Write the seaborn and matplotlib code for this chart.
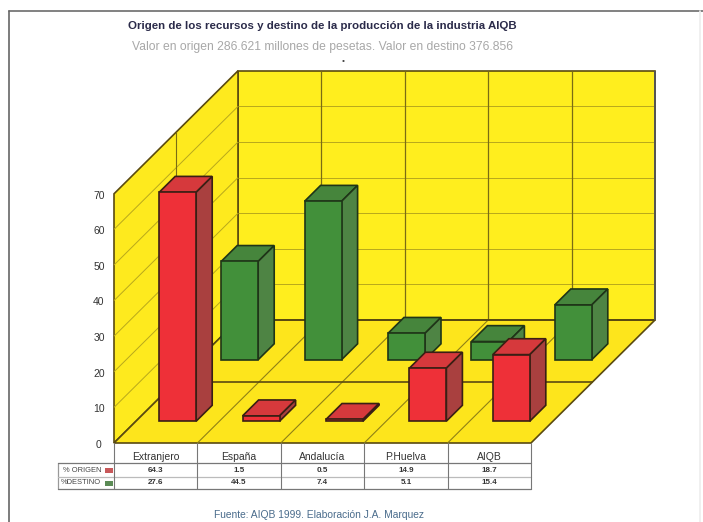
import numpy as np
import pandas as pd
import matplotlib
matplotlib.use('Agg')
import matplotlib.pyplot as plt
from matplotlib.patches import Polygon
import seaborn as sns

categories = ['Extranjero', 'España', 'Andalucía', 'P.Huelva', 'AIQB']
origen = [64.3, 1.5, 0.5, 14.9, 18.7]
destino = [27.6, 44.5, 7.4, 5.1, 15.4]
origen_txt = ['64.3', '1.5', '0.5', '14.9', '18.7']
destino_txt = ['27.6', '44.5', '7.4', '5.1', '15.4']
yticks = [0, 10, 20, 30, 40, 50, 60, 70]

sns.set_theme(style='white')
plt.rcParams['font.family'] = ['Liberation Sans', 'DejaVu Sans']

W, H = 703, 522
CAT_PX = 83.4   # pixels per category
VAL_PX = 3.56   # pixels per percent
X0, Y0 = 114, 443
DEPTH_X = 124 / CAT_PX   # oblique depth, in data units
DEPTH_Y = 123 / VAL_PX
YMAX = 70
YEL_BACK = '#FFEE1E'
YEL_SIDE = '#FEEA1E'
YEL_FLOOR = '#FDE51C'
LINE = '#5A4A10'

fig = plt.figure(figsize=(W / 100, H / 100), dpi=100)
ax = fig.add_axes([0, 0, 1, 1])


def proj(x, val, d):
    return x + d * DEPTH_X, val + d * DEPTH_Y


def px(x_pix, y_pix):
    return (x_pix - X0) / CAT_PX, (Y0 - y_pix) / VAL_PX


def face(pts, color, z, lw=1.2, ec='#2b2412'):
    ax.add_patch(Polygon(pts, closed=True, fc=color, ec=ec, lw=lw, zorder=z))


n = len(categories)

# walls and floor
face([proj(0, 0, 1), proj(n, 0, 1), proj(n, YMAX, 1), proj(0, YMAX, 1)], YEL_BACK, 1, 1.2, LINE)
face([proj(0, 0, 0), proj(0, 0, 1), proj(0, YMAX, 1), proj(0, YMAX, 0)], YEL_SIDE, 1, 1.2, LINE)
face([proj(0, 0, 0), proj(n, 0, 0), proj(n, 0, 1), proj(0, 0, 1)], YEL_FLOOR, 1, 1.2, LINE)


def grid(a, b, lw=0.8, col='#a89a1c'):
    ax.plot([a[0], b[0]], [a[1], b[1]], color=col, lw=lw, zorder=2, solid_capstyle='butt')


for v in yticks[1:-1]:
    grid(proj(0, v, 0), proj(0, v, 1), 0.7, '#b8a81c')
    grid(proj(0, v, 1), proj(n, v, 1), 0.7, '#b8a81c')
for i in range(1, n):
    grid(proj(i, 0, 1), proj(i, YMAX, 1), 0.9, '#7a6c14')
    grid(proj(i, 0, 0), proj(i, 0, 1), 0.8, '#8f8016')
grid(proj(0, 0, 0.5), proj(0, YMAX, 0.5), 0.8, '#7a6c14')
grid(proj(0, 0, 0.5), proj(n, 0, 0.5), 1.2, LINE)
grid(proj(0, 0, 1), proj(n, 0, 1), 1.4, LINE)
grid(proj(n, 0, 1), proj(n, YMAX, 1), 1.4, '#555555')

# bars: front faces through seaborn, top and side from the same values
BAR_W = 37 / 83.4
BAR_D = 16 / 124


def bars(values, d0, front, top, side, edge, z):
    pos = np.arange(n) + 0.5 + d0 * DEPTH_X
    base = d0 * DEPTH_Y
    df = pd.DataFrame({'pos': pos, 'val': values})
    sns.barplot(data=df, x='pos', y='val', native_scale=True, width=BAR_W, color=front,
                saturation=1, errorbar=None, bottom=base, edgecolor=edge, linewidth=1.2,
                zorder=z + 1, ax=ax)
    for i, v in enumerate(values):
        xl = i + 0.5 - BAR_W / 2
        xr = i + 0.5 + BAR_W / 2
        d1 = d0 + BAR_D
        face([proj(xl, v, d0), proj(xr, v, d0), proj(xr, v, d1), proj(xl, v, d1)], top, z, ec=edge)
        face([proj(xr, 0, d0), proj(xr, 0, d1), proj(xr, v, d1), proj(xr, v, d0)], side, z, ec=edge)


bars(destino, 84 / 124, '#42903A', '#46853C', '#4E8444', '#1f3518', 5)
bars(origen, 22 / 124, '#EE3038', '#D6393C', '#A9403F', '#3a1f14', 8)

ax.set_xlim(px(0, 0)[0], px(W, 0)[0])
ax.set_ylim(px(0, H)[1], px(0, 0)[1])
ax.axis('off')

# scanned page frame
frame_top = px(0, 11)[1]
ax.plot([px(9, 0)[0], px(W, 0)[0]], [frame_top, frame_top], color='#777777', lw=1.3)
ax.plot([px(9, 0)[0], px(9, 0)[0]], [frame_top, px(0, H)[1]], color='#666666', lw=1.2)
ax.plot([px(700, 0)[0], px(700, 0)[0]], [frame_top, px(0, H)[1]], color='#eeeeee', lw=1.2)

# value labels on the left
for v in yticks:
    ax.text(px(99, 0)[0], v - 0.5, str(v), ha='center', va='center', fontsize=7.5, color='#333333')

# table under the chart
ytab = [463, 477, 489]
xtab_left = px(58, 0)[0]
tc = '#777777'
for y_pix in ytab:
    yy = px(0, y_pix)[1]
    ax.plot([xtab_left, n], [yy, yy], color=tc if y_pix != 477 else '#bbbbbb', lw=0.9, zorder=3)
for i in range(n + 1):
    ax.plot([i, i], [px(0, 443)[1], px(0, 489)[1]], color=tc, lw=0.8, zorder=3)
ax.plot([xtab_left, xtab_left], [px(0, 463)[1], px(0, 489)[1]], color='#999999', lw=0.9)

for i, c in enumerate(categories):
    ax.text(i + 0.5, px(0, 457.5)[1], c, ha='center', va='center', fontsize=7.5, color='#333333')
    ax.text(i + 0.5, px(0, 470)[1], origen_txt[i], ha='center', va='center', fontsize=5.8,
            fontweight='bold', color='#333333')
    ax.text(i + 0.5, px(0, 483)[1], destino_txt[i], ha='center', va='center', fontsize=5.8,
            fontweight='bold', color='#333333')

ax.text(px(63, 0)[0], px(0, 470)[1], '% ORIGEN', ha='left', va='center', fontsize=5.4, color='#444444')
ax.text(px(61, 0)[0], px(0, 483)[1], '%DESTINO', ha='left', va='center', fontsize=5.4, color='#444444')
for y_pix, col in [(470, '#C8585A'), (483, '#5B8B55')]:
    x1, y1 = px(105, y_pix + 2.5)
    x2, y2 = px(113, y_pix - 2.5)
    ax.add_patch(Polygon([(x1, y1), (x2, y1), (x2, y2), (x1, y2)], fc=col, ec='none', zorder=3))

# titles
ax.text(*px(322, 26), 'Origen de los recursos y destino de la producción de la industria AIQB',
        ha='center', va='center', fontsize=8.25, fontweight='bold', color='#2B2B4A')
ax.text(*px(323, 47), 'Valor en origen 286.621 millones de pesetas. Valor en destino 376.856',
        ha='center', va='center', fontsize=8.7, color='#A8A8A8')
ax.text(*px(343, 62), '•', ha='center', va='center', fontsize=6, color='#444444')
ax.text(*px(319, 515), 'Fuente: AIQB 1999. Elaboración J.A. Marquez',
        ha='center', va='center', fontsize=7.4, color='#4A6C8C')

fig.savefig('out.png', dpi=100, facecolor='white')
